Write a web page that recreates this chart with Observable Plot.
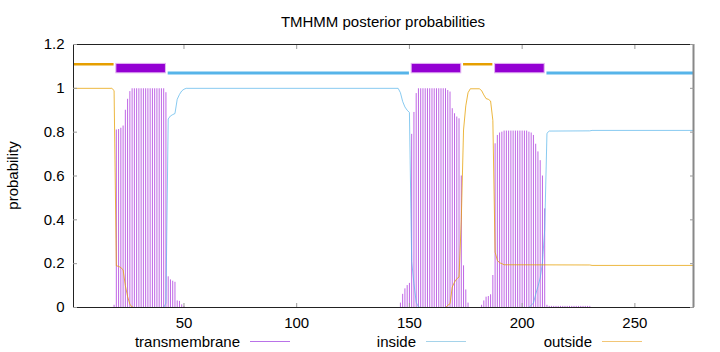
<!DOCTYPE html>
<html>
<head>
<meta charset="utf-8">
<script src="https://cdn.jsdelivr.net/npm/d3@7"></script>
<script src="https://cdn.jsdelivr.net/npm/@observablehq/plot@0.6"></script>
<style>
html, body { margin: 0; padding: 0; background: #fff; }
#chart { width: 720px; height: 352px; }
</style>
</head>
<body>
<div id="chart"></div>
<script>
// ---- chart text ----
const title = "TMHMM posterior probabilities";
const yLabel = "probability";
const seriesNames = ["transmembrane", "inside", "outside"];

// ---- axes ----
const seqLength = 276;
const xTicks = [50, 100, 150, 200, 250];
const yTicks = [0, 0.2, 0.4, 0.6, 0.8, 1, 1.2];
const yTickLabels = ["0", "0.2", "0.4", "0.6", "0.8", "1", "1.2"];

// ---- predicted topology (segments) ----
const segStart = [1, 20, 43, 151, 174, 188, 211];
const segEnd   = [19, 42, 150, 173, 187, 210, 276];
const segType  = ["outside", "transmembrane", "inside", "transmembrane", "outside", "transmembrane", "inside"];

// ---- transmembrane posterior (impulses, residues with non-zero probability) ----
const tmPos = [
  19, 20, 21, 22, 23, 24, 25, 26, 27, 28, 29, 30, 31, 32, 33, 34, 35, 36, 37, 38, 39, 40, 41, 42, 43, 44, 45, 46, 47, 48, 49, 50,
  146, 147, 148, 149, 150, 151, 152, 153, 154, 155, 156, 157, 158, 159, 160, 161, 162, 163, 164, 165, 166, 167, 168, 169, 170, 171, 172, 173, 174, 175, 176,
  182, 183, 184, 185, 186, 187, 188, 189, 190, 191, 192, 193, 194, 195, 196, 197, 198, 199, 200, 201, 202, 203, 204, 205, 206, 207, 208, 209, 210, 211,
  212, 213, 214, 215, 216, 217, 218, 219, 220, 221, 222, 223, 224, 225, 226, 227, 228, 229, 230
];
const tmProb = [
  0.01, 0.81, 0.812, 0.818, 0.828, 0.9, 0.95, 0.985, 0.998, 0.998, 0.998, 0.998, 0.998, 0.998, 0.998, 0.998, 0.998, 0.998, 0.998, 0.998, 0.998, 0.998, 0.998, 0.98, 0.14, 0.126, 0.12, 0.115, 0.03, 0.028, 0.012, 0.004,
  0.02, 0.06, 0.085, 0.1, 0.11, 0.79, 0.89, 0.976, 0.998, 0.998, 0.998, 0.998, 0.998, 0.998, 0.998, 0.998, 0.998, 0.998, 0.998, 0.998, 0.998, 0.99, 0.983, 0.907, 0.884, 0.869, 0.861, 0.6, 0.19, 0.08, 0.02,
  0.01, 0.03, 0.047, 0.05, 0.058, 0.146, 0.747, 0.785, 0.796, 0.8, 0.805, 0.805, 0.805, 0.805, 0.805, 0.805, 0.805, 0.805, 0.805, 0.805, 0.805, 0.8, 0.796, 0.785, 0.745, 0.71, 0.67, 0.6, 0.45, 0.01,
  0.005, 0.005, 0.005, 0.005, 0.005, 0.005, 0.005, 0.005, 0.005, 0.005, 0.005, 0.005, 0.005, 0.005, 0.005, 0.005, 0.005, 0.005, 0.005
];

// ---- inside posterior (line) ----
const insidePos  = [1, 41, 42, 43, 44, 45, 46, 47, 48, 49, 50, 51, 145, 146, 147, 148, 149, 150, 151, 152, 153, 154, 155, 203, 204, 205, 206, 207, 208, 209, 210, 211, 212, 230, 231, 276];
const insideProb = [0, 0, 0.02, 0.86, 0.874, 0.88, 0.885, 0.95, 0.972, 0.988, 0.996, 1, 1, 0.98, 0.94, 0.915, 0.9, 0.89, 0.21, 0.11, 0.024, 0.002, 0, 0, 0.01, 0.02, 0.06, 0.095, 0.135, 0.205, 0.355, 0.795, 0.805, 0.806, 0.808, 0.808];

// ---- outside posterior (line) ----
const outsidePos  = [1, 18, 19, 20, 21, 22, 23, 24, 25, 26, 27, 28, 166, 167, 168, 169, 170, 171, 172, 173, 174, 175, 176, 177, 181, 182, 183, 184, 185, 186, 187, 188, 189, 190, 191, 192, 230, 231, 276];
const outsideProb = [1, 1, 0.99, 0.19, 0.188, 0.182, 0.172, 0.1, 0.05, 0.015, 0.002, 0, 0, 0.01, 0.017, 0.093, 0.116, 0.131, 0.139, 0.4, 0.81, 0.92, 0.98, 0.998, 0.998, 0.99, 0.97, 0.953, 0.95, 0.942, 0.854, 0.253, 0.215, 0.204, 0.2, 0.195, 0.194, 0.192, 0.192];

// ---- build tables ----
const colors = { transmembrane: "#9400d3", inside: "#56b4e9", outside: "#e69f00" };
const tm = tmPos.map((p, i) => ({ pos: p, prob: tmProb[i] }));
const inside = insidePos.map((p, i) => ({ pos: p, prob: insideProb[i] }));
const outside = outsidePos.map((p, i) => ({ pos: p, prob: outsideProb[i] }));
const segs = segStart.map((s, i) => ({ x1: s, x2: segEnd[i], type: segType[i] }));
const fontFamily = "'Liberation Sans', Arial, Helvetica, sans-serif";

const chart = Plot.plot({
  width: 720,
  height: 352,
  marginLeft: 73,
  marginRight: 27,
  marginTop: 44,
  marginBottom: 45,
  style: { fontFamily, fontSize: "15px", background: "#fff", color: "#000" },
  x: { domain: [1, seqLength] },
  y: { domain: [0, 1.2] },
  marks: [
    Plot.ruleX(tm, { x: "pos", y1: 0, y2: "prob", stroke: colors.transmembrane, strokeOpacity: 0.6, strokeWidth: 1 }),
    Plot.line(inside, { x: "pos", y: "prob", stroke: colors.inside, strokeOpacity: 0.7, strokeWidth: 1 }),
    Plot.line(outside, { x: "pos", y: "prob", stroke: colors.outside, strokeOpacity: 0.75, strokeWidth: 1 }),
    Plot.ruleY(segs.filter(d => d.type === "outside"), { x1: "x1", x2: "x2", y: 1.11, stroke: colors.outside, strokeWidth: 2.5 }),
    Plot.ruleY(segs.filter(d => d.type === "inside"), { x1: "x1", x2: "x2", y: 1.07, stroke: colors.inside, strokeWidth: 3 }),
    Plot.rect(segs.filter(d => d.type === "transmembrane"), { x1: "x1", x2: "x2", y1: 1.0685, y2: 1.1115, fill: colors.transmembrane, stroke: "#e3b6f2", strokeWidth: 1 }),
    Plot.frame({ stroke: "#222" }),
    Plot.ruleX([seqLength], { stroke: "#888", strokeWidth: 2 }),
    Plot.axisX({ ticks: xTicks, anchor: "bottom", label: null, tickSize: -4, tickPadding: 14, stroke: "#999", fill: "#000" }),
    Plot.axisX({ ticks: xTicks, anchor: "top", label: null, tickSize: -4, tickFormat: () => "", stroke: "#999" }),
    Plot.axisY({ ticks: yTicks, anchor: "left", label: null, tickSize: -4, tickPadding: 13, stroke: "#999", fill: "#000",
      tickFormat: d => yTickLabels[yTicks.indexOf(d)] }),
    Plot.axisY({ ticks: yTicks, anchor: "right", label: null, tickSize: -4, tickFormat: () => "", stroke: "#999" })
  ]
});

document.getElementById("chart").appendChild(chart);

// ---- title, y label, legend ----
const svg = d3.select(chart.tagName.toLowerCase() === "svg" ? chart : chart.querySelector("svg"));
svg.append("text")
  .attr("x", 383).attr("y", 26.5)
  .attr("text-anchor", "middle")
  .attr("font-family", fontFamily).attr("font-size", 15).attr("fill", "#000")
  .text(title);
svg.append("text")
  .attr("transform", "translate(18,175.5) rotate(-90)")
  .attr("text-anchor", "middle")
  .attr("font-family", fontFamily).attr("font-size", 15).attr("fill", "#000")
  .text(yLabel);
const legendEnds = [240, 416, 592];
const legendColors = ["#b972e8", "#a5d3ea", "#f2c676"];
seriesNames.forEach((name, i) => {
  svg.append("text")
    .attr("x", legendEnds[i]).attr("y", 346.5)
    .attr("text-anchor", "end")
    .attr("font-family", fontFamily).attr("font-size", 15).attr("fill", "#000")
    .text(name);
  svg.append("line")
    .attr("x1", legendEnds[i] + 10).attr("x2", legendEnds[i] + 50)
    .attr("y1", 341.5).attr("y2", 341.5)
    .attr("stroke", legendColors[i]).attr("stroke-width", 1);
});
</script>
</body>
</html>
